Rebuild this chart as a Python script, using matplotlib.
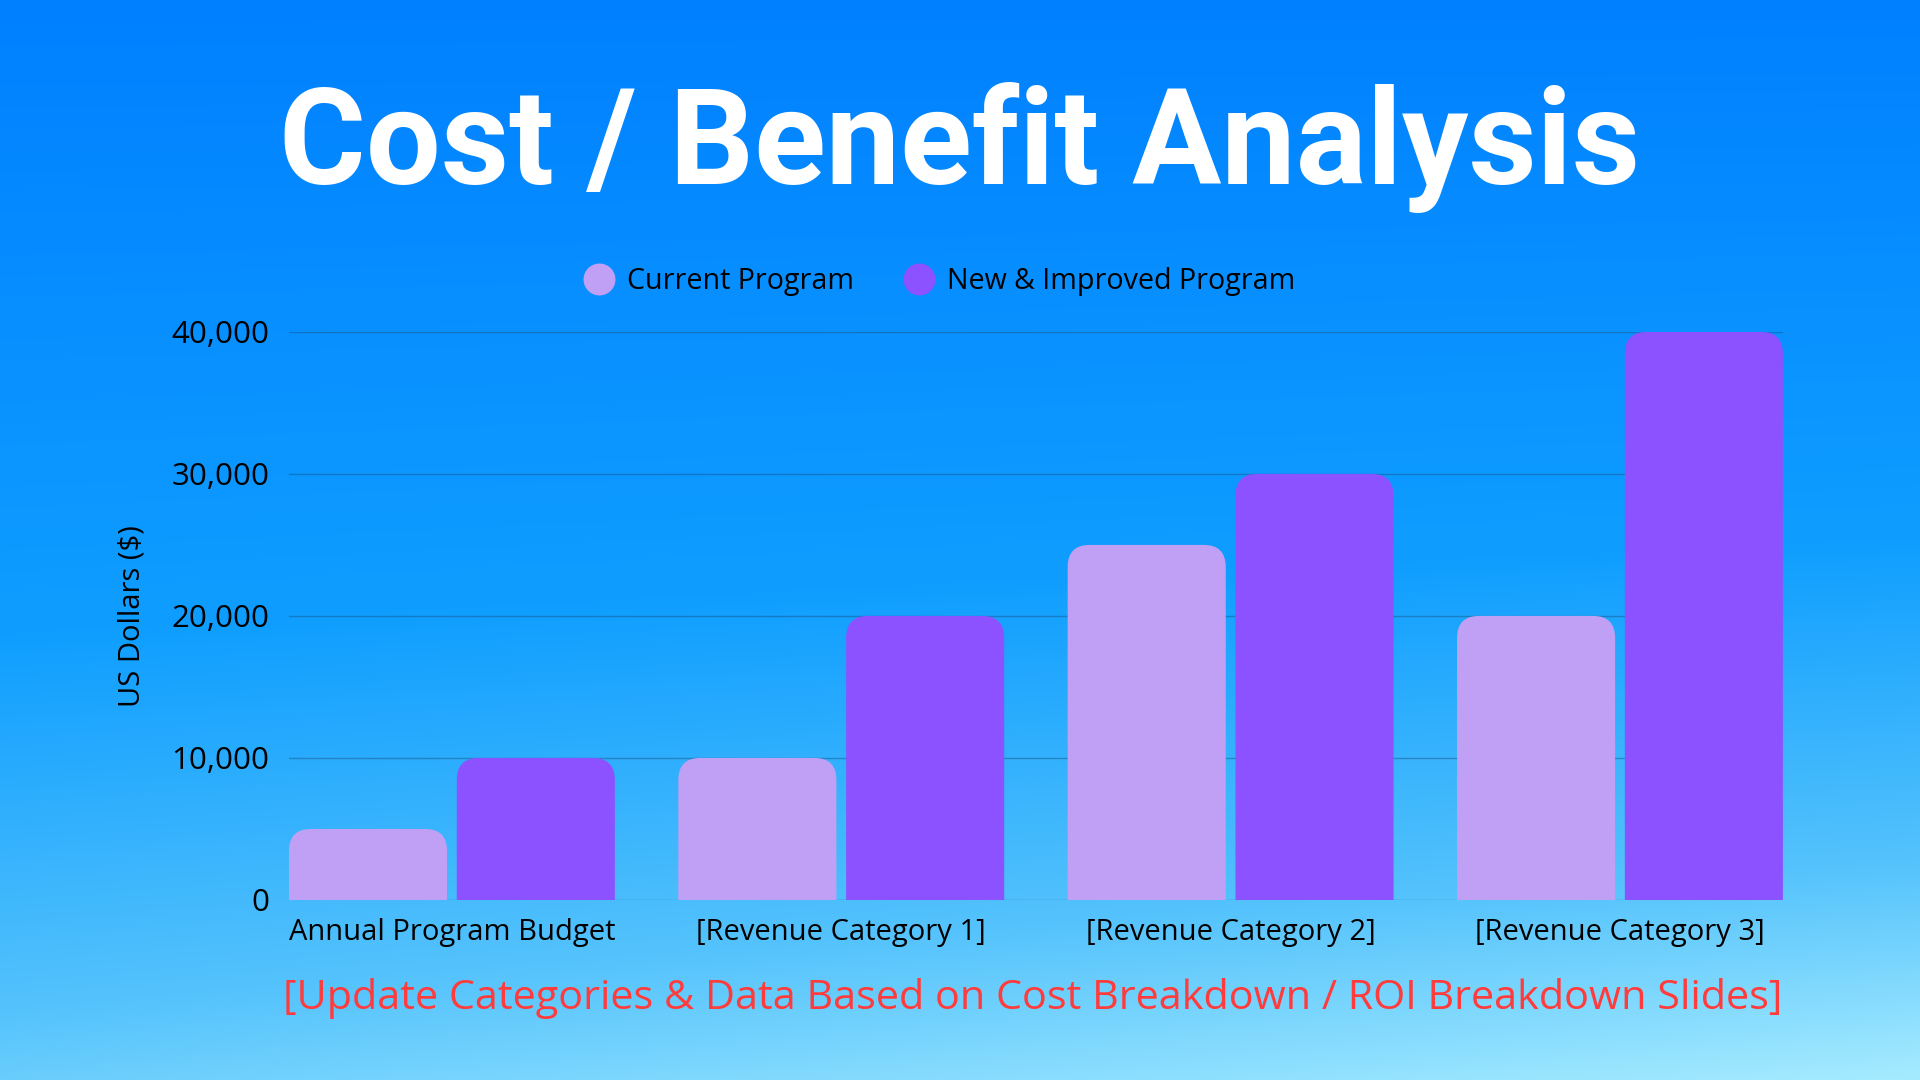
import numpy as np
import matplotlib
matplotlib.use("Agg")
import matplotlib.pyplot as plt
from matplotlib.patches import FancyBboxPatch
from matplotlib.lines import Line2D
from matplotlib.ticker import FuncFormatter

categories = ["Annual Program Budget", "[Revenue Category 1]",
              "[Revenue Category 2]", "[Revenue Category 3]"]
current_program = [5000, 10000, 25000, 20000]
new_program = [10000, 20000, 30000, 40000]
series_names = ["Current Program", "New & Improved Program"]
y_ticks = [0, 10000, 20000, 30000, 40000]

title = "Cost / Benefit Analysis"
y_label = "US Dollars ($)"
footnote = "[Update Categories & Data Based on Cost Breakdown / ROI Breakdown Slides]"

light_purple = "#c0a0f5"
dark_purple = "#8c52ff"

plt.rcParams["font.family"] = ["Open Sans", "DejaVu Sans"]


def background(fig):
    # soft blue -> cyan gradient behind everything
    h, w = 270, 480
    yy, xx = np.mgrid[0:1:h * 1j, 0:1:w * 1j]
    t = np.clip(0.85 * yy + 0.15 * xx * yy, 0, 1)
    stops = [0.0, 0.5, 0.8, 1.0]
    cols = np.array([[0, 128, 255], [15, 158, 255], [85, 195, 252], [165, 235, 255]]) / 255
    img = np.stack([np.interp(t, stops, cols[:, k]) for k in range(3)], axis=-1)
    bg = fig.add_axes([0, 0, 1, 1], zorder=-1)
    bg.imshow(img, aspect="auto", extent=[0, 1, 0, 1], interpolation="bilinear")
    bg.axis("off")


def round_bars(ax, bars, radius_px):
    # swap each rectangle for one with rounded top corners
    x0, y0 = ax.transData.transform((0, 0))
    x1, y1 = ax.transData.transform((1, 1))
    px_x, px_y = x1 - x0, y1 - y0
    r_x = radius_px / px_x
    r_y = radius_px / px_y
    for rect in bars:
        patch = FancyBboxPatch(
            (rect.get_x(), -r_y), rect.get_width(), rect.get_height() + r_y,
            boxstyle=f"round,pad=0,rounding_size={r_x}",
            mutation_aspect=px_x / px_y,
            facecolor=rect.get_facecolor(), edgecolor="none",
            zorder=3, clip_on=True,
        )
        ax.add_patch(patch)
        rect.remove()


def fit_width(fig, text, target_px):
    fig.canvas.draw()
    w = text.get_window_extent().width
    text.set_fontsize(text.get_fontsize() * target_px / w)


def main():
    fig = plt.figure(figsize=(19.2, 10.8), dpi=100)
    background(fig)

    ax = fig.add_axes([0.1505, 0.1667, 0.7781, 0.526], zorder=1)
    ax.patch.set_alpha(0)

    x = np.arange(len(categories))
    width = 0.406
    offset = 0.2155
    bars_cur = ax.bar(x - offset, current_program, width, color=light_purple)
    bars_new = ax.bar(x + offset, new_program, width, color=dark_purple)

    ax.set_xlim(-offset - width / 2, len(categories) - 1 + offset + width / 2)
    ax.set_ylim(0, 40000)
    ax.set_yticks(y_ticks)
    ax.yaxis.set_major_formatter(FuncFormatter(lambda v, p: f"{int(v):,}"))
    ax.set_xticks(x)
    ax.set_xticklabels(categories)
    ax.tick_params(axis="both", length=0, labelsize=21, colors="black")
    ax.tick_params(axis="y", pad=14, labelsize=22.5)
    ax.tick_params(axis="x", pad=13)
    ax.grid(axis="y", color="#1a4f80", alpha=0.45, linewidth=1.0)
    ax.set_axisbelow(True)
    for s in ax.spines.values():
        s.set_visible(False)
    ax.set_ylabel(y_label, fontsize=21, labelpad=18)

    round_bars(ax, list(bars_cur) + list(bars_new), radius_px=22)

    title_txt = fig.text(0.5, 0.830, title, ha="center", va="baseline", fontsize=100,
                         fontweight="bold", color="white", family=["Roboto", "DejaVu Sans"])

    handles = [Line2D([], [], marker="o", linestyle="none", markersize=23,
                      markerfacecolor=c, markeredgecolor="none")
               for c in (light_purple, dark_purple)]
    fig.legend(handles, series_names, loc="center", bbox_to_anchor=(0.4895, 0.7395),
               ncol=2, frameon=False, fontsize=20.6, handletextpad=0.5,
               columnspacing=1.75, handlelength=1.0)

    foot_txt = fig.text(0.538, 0.066, footnote, ha="center", va="baseline", fontsize=30,
                        color="#ff3b3b")

    fit_width(fig, title_txt, 1362)
    fit_width(fig, foot_txt, 1504)

    fig.savefig("out.png", dpi=100)


if __name__ == "__main__":
    main()
